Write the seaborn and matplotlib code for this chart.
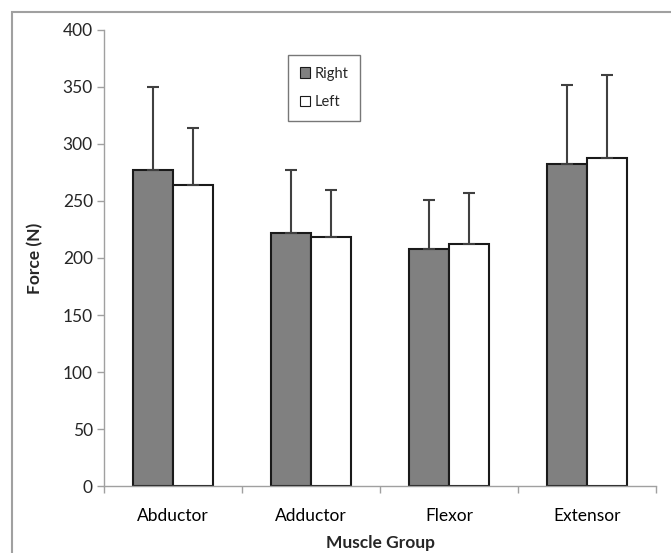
import pandas as pd
import matplotlib.pyplot as plt
import numpy as np
import seaborn as sns
from matplotlib.patches import Patch, Rectangle

# Data
groups = ["Abductor", "Adductor", "Flexor", "Extensor"]
right_force = [277, 222, 208, 282]
left_force = [264, 218, 212, 288]
right_sd = [73, 55, 43, 70]
left_sd = [50, 42, 45, 72]
sides = ["Right", "Left"]
y_ticks = [0, 50, 100, 150, 200, 250, 300, 350, 400]

df = pd.DataFrame({
    "group": groups * 2,
    "side": ["Right"] * 4 + ["Left"] * 4,
    "force": right_force + left_force,
    "sd": right_sd + left_sd,
})

palette = {"Right": "#808080", "Left": "#ffffff"}

sns.set_theme(style="white")
plt.rcParams["font.family"] = ["Lato", "DejaVu Sans"]

fig = plt.figure(figsize=(6.71, 5.53), dpi=100)
ax = fig.add_axes([0.155, 0.121, 0.823, 0.825])

sns.barplot(
    data=df, x="group", y="force", hue="side", hue_order=sides,
    order=groups, palette=palette, width=0.58, errorbar=None,
    edgecolor="#1a1a1a", linewidth=1.5, legend=False, ax=ax,
)

# one-sided error bars on top of each bar
for side in sides:
    sub = df[df["side"] == side].set_index("group").loc[groups]
    off = -0.145 if side == "Right" else 0.145
    xs = np.arange(len(groups)) + off
    ax.errorbar(xs, sub["force"], yerr=[np.zeros(len(groups)), sub["sd"]],
                fmt="none", ecolor="#404040", elinewidth=1.5,
                capsize=4, capthick=1.5, zorder=1)

ax.set_ylim(0, 400)
ax.set_yticks(y_ticks)
ax.set_xlim(-0.5, 3.5)
ax.set_xticks(range(len(groups)))
ax.set_xticklabels(groups)
ax.set_xticks(np.arange(-0.5, 4, 1), minor=True)

ax.tick_params(axis="x", which="major", length=0, pad=16, labelsize=12.5, colors="#000000")
ax.tick_params(axis="x", which="minor", length=5, width=1, color="#a0a0a0", direction="out")
ax.tick_params(axis="y", length=5, width=1, color="#a0a0a0", direction="out",
               left=True, labelsize=12.5, pad=3)
ax.xaxis.set_tick_params(bottom=True, which="minor")

for s in ["top", "right"]:
    ax.spines[s].set_visible(False)
for s in ["left", "bottom"]:
    ax.spines[s].set_color("#a0a0a0")
    ax.spines[s].set_linewidth(1)

ax.set_xlabel("Muscle Group", fontsize=12.5, fontweight="bold", labelpad=8)
ax.set_ylabel("Force (N)", fontsize=12.5, fontweight="bold", labelpad=14)

handles = [Patch(facecolor=palette[s], edgecolor="#1a1a1a", linewidth=0.8, label=s) for s in sides]
leg = ax.legend(handles=handles, loc="upper left", bbox_to_anchor=(288 / 671, 1 - 55 / 553),
                bbox_transform=fig.transFigure, fontsize=10.5, frameon=True, fancybox=False,
                handlelength=0.7, handleheight=0.7, handletextpad=0.3,
                labelspacing=1.0, borderpad=0.8, borderaxespad=0)
leg.get_frame().set_edgecolor("#555555")
leg.get_frame().set_linewidth(1)

# chart area border
fig.patches.append(Rectangle((12 / 671, -0.1), 1.2, 1.1 - 12 / 553, transform=fig.transFigure,
                             fill=False, edgecolor="#a0a0a0", linewidth=1.5, zorder=-1))

plt.savefig("out.png", dpi=100)
